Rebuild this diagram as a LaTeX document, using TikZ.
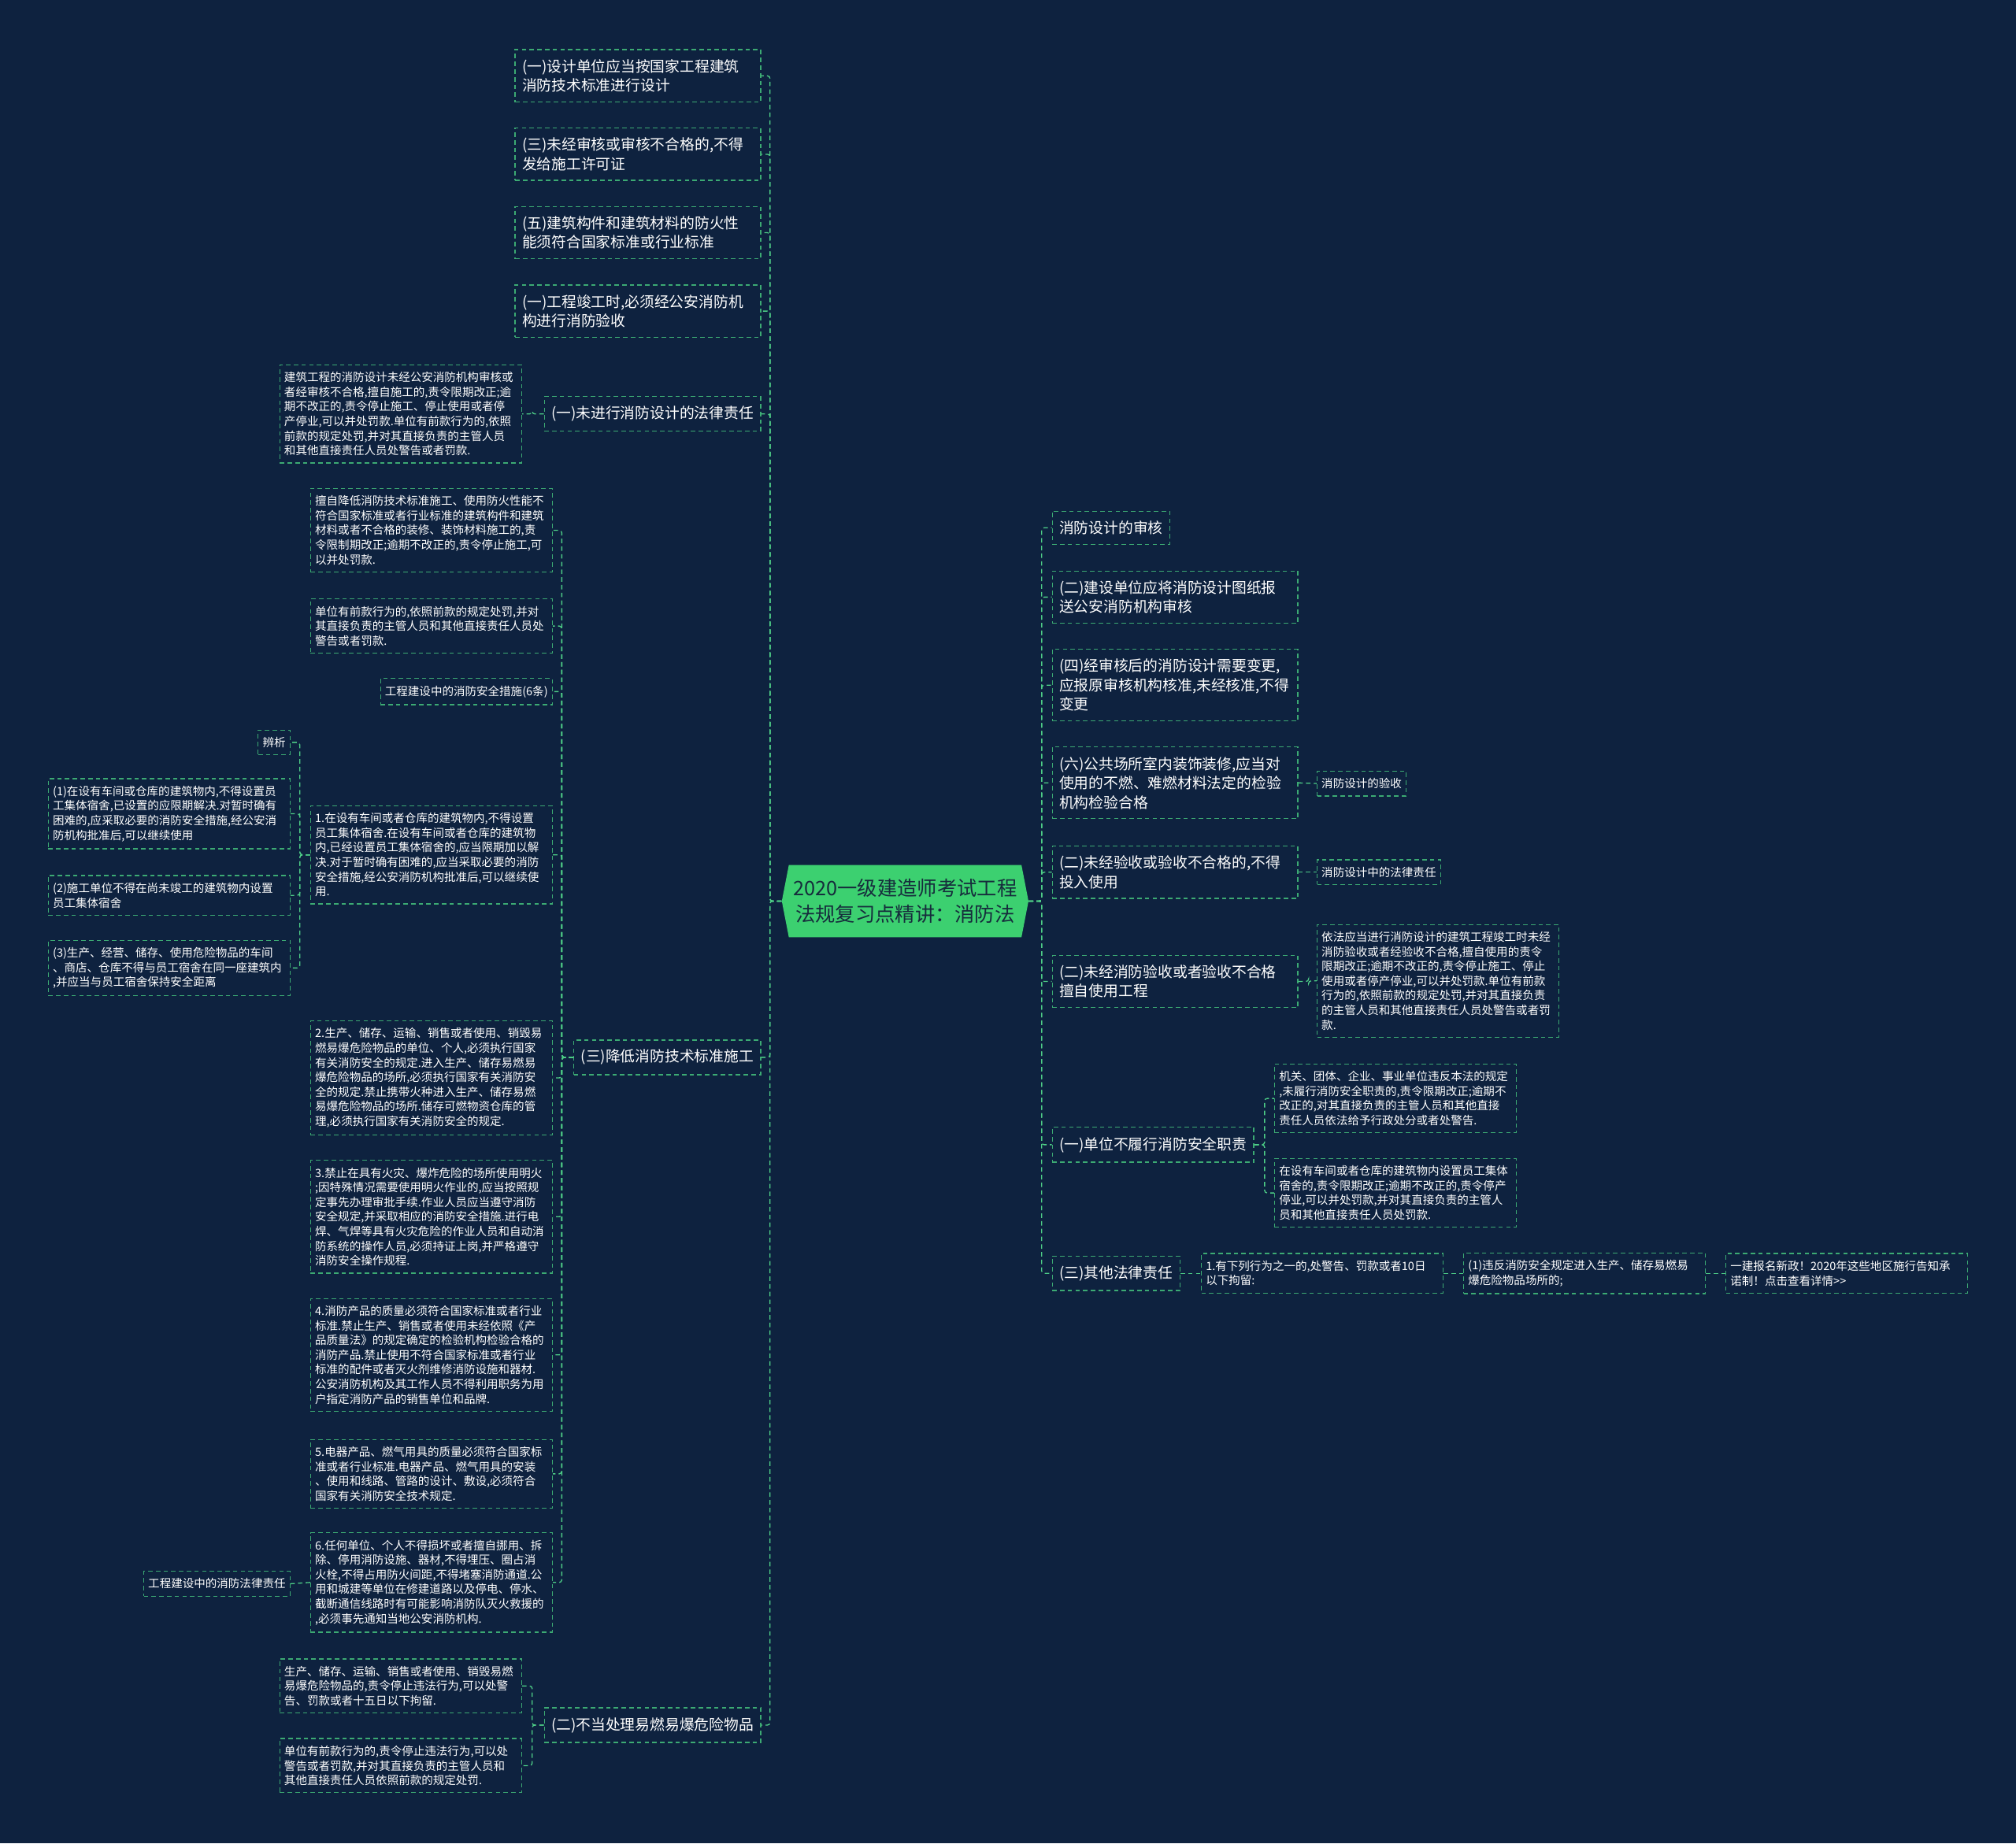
\documentclass[tikz,border=0pt]{standalone}
\usepackage{fontspec}
\setmainfont{Noto Sans CJK SC}
\usepackage{tikz}
\usetikzlibrary{shapes.symbols}
\definecolor{fondo}{RGB}{14,34,63}
\definecolor{verdecaja}{RGB}{60,170,115}
\definecolor{verdelinea}{RGB}{78,206,135}
\definecolor{verderaiz}{RGB}{60,208,112}
\definecolor{textoraiz}{RGB}{22,44,60}
\hyphenpenalty=10000
\exhyphenpenalty=10000

\begin{document}
\begin{tikzpicture}[x=1pt,y=-1pt,
    punteado/.style={dash pattern=on 3.5pt off 2.5pt, line width=0.8pt},
    raiz/.style={signal, signal to=east and west, signal pointer angle=158,
        fill=verderaiz, text=textoraiz, align=center, inner xsep=3.5pt, inner ysep=11pt,
        font=\fontsize{15.5}{20}\selectfont},
    tema/.style={draw=verdecaja, punteado, text=white, align=left,
        inner xsep=5.5pt, inner ysep=7.5pt, font=\fontsize{11.5}{15}\selectfont},
    detalle/.style={draw=verdecaja, punteado, text=white, align=left,
        inner xsep=3.5pt, inner ysep=5.5pt, font=\fontsize{8.9}{11.4}\selectfont},
    ancho/.style={text width=#1},
    ancho/.default=180pt,
    enlace/.style={draw=verdelinea, punteado, rounded corners=2pt}]
    % Fondo
    \fill[fondo] (0,0) rectangle (1568,1434);
    \useasboundingbox (0,0) rectangle (1568,1434);
    % Nodo central
    \node[raiz] (raiz) at (704,701) {2020一级建造师考试工程\\法规复习点精讲：消防法};
    % Ramas de la izquierda
    \node[tema, ancho, anchor=east] (izq1) at (592,59) {(一)设计单位应当按国家工程建筑\\消防技术标准进行设计};
    \node[tema, ancho, anchor=east] (izq2) at (592,120) {(三)未经审核或审核不合格的,不得\\发给施工许可证};
    \node[tema, ancho, anchor=east] (izq3) at (592,181) {(五)建筑构件和建筑材料的防火性\\能须符合国家标准或行业标准};
    \node[tema, ancho, anchor=east] (izq4) at (592,242) {(一)工程竣工时,必须经公安消防机\\构进行消防验收};
    \node[tema, anchor=east] (izq5) at (592,322) {(一)未进行消防设计的法律责任};
    \node[tema, anchor=east] (izq6) at (592,822.5) {(三)降低消防技术标准施工};
    \node[tema, anchor=east] (izq7) at (592,1342) {(二)不当处理易燃易爆危险物品};
    % Hojas de (一)未进行消防设计
    \node[detalle, ancho=181pt, anchor=east] (izq5a) at (406,322) {建筑工程的消防设计未经公安消防机构审核或\\者经审核不合格,擅自施工的,责令限期改正;逾\\期不改正的,责令停止施工、停止使用或者停\\产停业,可以并处罚款.单位有前款行为的,依照\\前款的规定处罚,并对其直接负责的主管人员\\和其他直接责任人员处警告或者罚款.};
    % Hojas de (三)降低消防技术标准施工
    \node[detalle, ancho=181pt, anchor=east] (izq6a) at (430,412.5) {擅自降低消防技术标准施工、使用防火性能不\\符合国家标准或者行业标准的建筑构件和建筑\\材料或者不合格的装修、装饰材料施工的,责\\令限制期改正;逾期不改正的,责令停止施工,可\\以并处罚款.};
    \node[detalle, ancho=181pt, anchor=east] (izq6b) at (430,487) {单位有前款行为的,依照前款的规定处罚,并对\\其直接负责的主管人员和其他直接责任人员处\\警告或者罚款.};
    \node[detalle, anchor=east] (izq6c) at (430,538) {工程建设中的消防安全措施(6条)};
    \node[detalle, ancho=181pt, anchor=east] (izq6d) at (430,665) {1.在设有车间或者仓库的建筑物内,不得设置\\员工集体宿舍.在设有车间或者仓库的建筑物\\内,已经设置员工集体宿舍的,应当限期加以解\\决.对于暂时确有困难的,应当采取必要的消防\\安全措施,经公安消防机构批准后,可以继续使\\用.};
    \node[detalle, ancho=181pt, anchor=east] (izq6e) at (430,838.5) {2.生产、储存、运输、销售或者使用、销毁易\\燃易爆危险物品的单位、个人,必须执行国家\\有关消防安全的规定.进入生产、储存易燃易\\爆危险物品的场所,必须执行国家有关消防安\\全的规定.禁止携带火种进入生产、储存易燃\\易爆危险物品的场所.储存可燃物资仓库的管\\理,必须执行国家有关消防安全的规定.};
    \node[detalle, ancho=181pt, anchor=east] (izq6f) at (430,946.5) {3.禁止在具有火灾、爆炸危险的场所使用明火\\;因特殊情况需要使用明火作业的,应当按照规\\定事先办理审批手续.作业人员应当遵守消防\\安全规定,并采取相应的消防安全措施.进行电\\焊、气焊等具有火灾危险的作业人员和自动消\\防系统的操作人员,必须持证上岗,并严格遵守\\消防安全操作规程.};
    \node[detalle, ancho=181pt, anchor=east] (izq6g) at (430,1054) {4.消防产品的质量必须符合国家标准或者行业\\标准.禁止生产、销售或者使用未经依照《产\\品质量法》的规定确定的检验机构检验合格的\\消防产品.禁止使用不符合国家标准或者行业\\标准的配件或者灭火剂维修消防设施和器材.\\公安消防机构及其工作人员不得利用职务为用\\户指定消防产品的销售单位和品牌.};
    \node[detalle, ancho=181pt, anchor=east] (izq6h) at (430,1146.5) {5.电器产品、燃气用具的质量必须符合国家标\\准或者行业标准.电器产品、燃气用具的安装\\、使用和线路、管路的设计、敷设,必须符合\\国家有关消防安全技术规定.};
    \node[detalle, ancho=181pt, anchor=east] (izq6i) at (430,1231) {6.任何单位、个人不得损坏或者擅自挪用、拆\\除、停用消防设施、器材,不得埋压、圈占消\\火栓,不得占用防火间距,不得堵塞消防通道.公\\用和城建等单位在修建道路以及停电、停水、\\截断通信线路时有可能影响消防队灭火救援的\\,必须事先通知当地公安消防机构.};
    % Hojas del punto 1
    \node[detalle, anchor=east] (bianxi) at (226,577.5) {辨析};
    \node[detalle, ancho=181pt, anchor=east] (punto1) at (226,633) {(1)在设有车间或仓库的建筑物内,不得设置员\\工集体宿舍,已设置的应限期解决.对暂时确有\\困难的,应采取必要的消防安全措施,经公安消\\防机构批准后,可以继续使用};
    \node[detalle, ancho=181pt, anchor=east] (punto2) at (226,696.5) {(2)施工单位不得在尚未竣工的建筑物内设置\\员工集体宿舍};
    \node[detalle, ancho=181pt, anchor=east] (punto3) at (226,753) {(3)生产、经营、储存、使用危险物品的车间\\、商店、仓库不得与员工宿舍在同一座建筑内\\,并应当与员工宿舍保持安全距离};
    \node[detalle, anchor=east] (punto6) at (226,1232) {工程建设中的消防法律责任};
    % Hojas de (二)不当处理
    \node[detalle, ancho=181pt, anchor=east] (izq7a) at (406,1311.5) {生产、储存、运输、销售或者使用、销毁易燃\\易爆危险物品的,责令停止违法行为,可以处警\\告、罚款或者十五日以下拘留.};
    \node[detalle, ancho=181pt, anchor=east] (izq7b) at (406,1373.5) {单位有前款行为的,责令停止违法行为,可以处\\警告或者罚款,并对其直接负责的主管人员和\\其他直接责任人员依照前款的规定处罚.};
    % Ramas de la derecha
    \node[tema, anchor=west] (der1) at (818,410.5) {消防设计的审核};
    \node[tema, ancho, anchor=west] (der2) at (818,464.5) {(二)建设单位应将消防设计图纸报\\送公安消防机构审核};
    \node[tema, ancho, anchor=west] (der3) at (818,533) {(四)经审核后的消防设计需要变更,\\应报原审核机构核准,未经核准,不得\\变更};
    \node[tema, ancho, anchor=west] (der4) at (818,609) {(六)公共场所室内装饰装修,应当对\\使用的不燃、难燃材料法定的检验\\机构检验合格};
    \node[tema, ancho, anchor=west] (der5) at (818,678.5) {(二)未经验收或验收不合格的,不得\\投入使用};
    \node[tema, ancho, anchor=west] (der6) at (818,763.5) {(二)未经消防验收或者验收不合格\\擅自使用工程};
    \node[tema, anchor=west] (der7) at (818,890.5) {(一)单位不履行消防安全职责};
    \node[tema, anchor=west] (der8) at (818,990.5) {(三)其他法律责任};
    % Hojas de la derecha
    \node[detalle, anchor=west] (der4a) at (1024,609.5) {消防设计的验收};
    \node[detalle, anchor=west] (der5a) at (1024,678.5) {消防设计中的法律责任};
    \node[detalle, ancho=181pt, anchor=west] (der6a) at (1024,763) {依法应当进行消防设计的建筑工程竣工时未经\\消防验收或者经验收不合格,擅自使用的责令\\限期改正;逾期不改正的,责令停止施工、停止\\使用或者停产停业,可以并处罚款.单位有前款\\行为的,依照前款的规定处罚,并对其直接负责\\的主管人员和其他直接责任人员处警告或者罚\\款.};
    \node[detalle, ancho=181pt, anchor=west] (der7a) at (991,854.5) {机关、团体、企业、事业单位违反本法的规定\\,未履行消防安全职责的,责令限期改正;逾期不\\改正的,对其直接负责的主管人员和其他直接\\责任人员依法给予行政处分或者处警告.};
    \node[detalle, ancho=181pt, anchor=west] (der7b) at (991,928) {在设有车间或者仓库的建筑物内设置员工集体\\宿舍的,责令限期改正;逾期不改正的,责令停产\\停业,可以并处罚款,并对其直接负责的主管人\\员和其他直接责任人员处罚款.};
    \node[detalle, ancho=181pt, anchor=west] (der8a) at (934,990.5) {1.有下列行为之一的,处警告、罚款或者10日\\以下拘留:};
    \node[detalle, ancho=181pt, anchor=west] (der8b) at (1138,990.5) {(1)违反消防安全规定进入生产、储存易燃易\\爆危险物品场所的;};
    \node[detalle, ancho=181pt, anchor=west] (der8c) at (1342,990.5) {一建报名新政！2020年这些地区施行告知承\\诺制！点击查看详情>\kern0pt>};
    % Conectores
    \foreach \n in {izq1,izq2,izq3,izq4,izq5,izq6,izq7}
        \draw[enlace] (raiz.west) -- ++(-9,0) |- (\n.east);
    \foreach \n in {der1,der2,der3,der4,der5,der6,der7,der8}
        \draw[enlace] (raiz.east) -- ++(10,0) |- (\n.west);
    \draw[enlace] (izq5.west) -- ++(-9,0) |- (izq5a.east);
    \foreach \n in {izq6a,izq6b,izq6c,izq6d,izq6e,izq6f,izq6g,izq6h,izq6i}
        \draw[enlace] (izq6.west) -- ++(-9,0) |- (\n.east);
    \foreach \n in {bianxi,punto1,punto2,punto3}
        \draw[enlace] (izq6d.west) -- ++(-8,0) |- (\n.east);
    \draw[enlace] (izq6i.west) -- (punto6.east);
    \foreach \n in {izq7a,izq7b}
        \draw[enlace] (izq7.west) -- ++(-9,0) |- (\n.east);
    \draw[enlace] (der4.east) -- (der4a.west);
    \draw[enlace] (der5.east) -- (der5a.west);
    \draw[enlace] (der6.east) -- ++(8,0) |- (der6a.west);
    \foreach \n in {der7a,der7b}
        \draw[enlace] (der7.east) -- ++(8,0) |- (\n.west);
    \draw[enlace] (der8.east) -- (der8a.west);
    \draw[enlace] (der8a.east) -- (der8b.west);
    \draw[enlace] (der8b.east) -- (der8c.west);
\end{tikzpicture}
\end{document}
